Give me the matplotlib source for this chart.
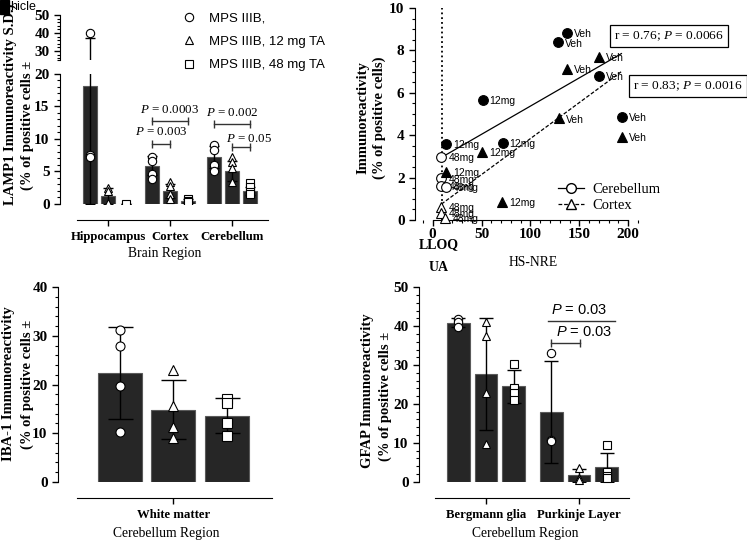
import numpy as np
import matplotlib
matplotlib.use("Agg")
import matplotlib.pyplot as plt
from matplotlib.ticker import MultipleLocator, FixedLocator
from matplotlib.lines import Line2D

plt.rcParams['font.family'] = 'Liberation Serif'
plt.rcParams['mathtext.fontset'] = 'custom'
plt.rcParams['mathtext.it'] = 'Liberation Serif:italic'
plt.rcParams['mathtext.rm'] = 'Liberation Serif'
plt.rcParams['mathtext.sf'] = 'Liberation Sans:italic'

# ---- panel A: LAMP1 ----
regions_a = ['Hippocampus', 'Cortex', 'Cerebellum']
lamp_mean_veh = [18.2, 5.9, 7.2]
lamp_mean_12 = [1.2, 2.0, 5.1]
lamp_mean_48 = [0.0, 0.5, 2.0]
lamp_sd_veh = [18.8, 1.5, 1.7]
lamp_sd_12 = [1.2, 1.1, 1.5]
lamp_sd_48 = [0.0, 0.3, 0.6]
lamp_pts_veh = [[40.0, 7.5, 7.2], [7.2, 6.6, 4.6, 3.9], [9.0, 8.3, 6.0, 5.1]]
lamp_pts_12 = [[2.5, 2.0, 0.1], [3.4, 2.8, 1.5, 0.8], [7.3, 6.5, 5.5, 3.4]]
lamp_pts_48 = [[0.0], [0.8, 0.4, 0.3], [3.3, 2.6, 1.9, 1.5]]

# ---- panel B: correlation with HS-NRE ----
cb_veh_x = [137, 128.5, 170.5, 194]
cb_veh_y = [8.83, 8.38, 6.8, 4.87]
cb_12_x = [51, 14, 71.5]
cb_12_y = [5.66, 3.58, 3.65]
cb_48_x = [9, 9, 9, 13.5]
cb_48_y = [2.99, 1.97, 1.6, 1.57]
cx_veh_x = [170.3, 137, 129, 194]
cx_veh_y = [7.7, 7.12, 4.8, 3.93]
cx_12_x = [50.6, 14, 71]
cx_12_y = [3.22, 2.28, 0.86]
cx_48_x = [9, 9, 13]
cx_48_y = [0.63, 0.35, 0.1]
fit_cb_x, fit_cb_y = [9, 193], [2.95, 7.85]
fit_cx_x, fit_cx_y = [9, 193], [0.75, 7.0]
lloq = 9.5

# ---- panel C: IBA-1 ----
iba_mean = [22.3, 14.8, 13.6]
iba_sd = [9.5, 6.1, 3.6]
iba_pts = [[31.2, 28.0, 19.6, 10.2], [22.9, 15.6, 11.3, 9.0], [17.0, 16.2, 12.0, 9.5]]

# ---- panel D: GFAP ----
regions_d = ['Bergmann glia', 'Purkinje Layer']
gfap_mean_veh = [40.9, 18.0]
gfap_mean_12 = [27.8, 1.6]
gfap_mean_48 = [24.5, 3.7]
gfap_sd_veh = [1.2, 13.1]
gfap_sd_12 = [14.4, 1.6]
gfap_sd_48 = [4.2, 3.8]
gfap_pts_veh = [[41.8, 41.0, 39.8], [33.2, 10.6, 10.4]]
gfap_pts_12 = [[41.2, 37.4, 22.9, 9.7], [3.6, 0.9, 0.4]]
gfap_pts_48 = [[30.4, 24.2, 22.9, 20.9], [9.5, 2.5, 1.5, 1.0]]

W, H = 747, 543
fig = plt.figure(figsize=(W / 100, H / 100), dpi=100)

BAR = '#262626'
EDGE = '#5a5a5a'
markers = ['o', '^', 's']
CAT_SIZE = 9.2
TITLE_SIZE = 9.8


def px_axes(l, t, r, b):
    return fig.add_axes([l / W, 1 - b / H, (r - l) / W, (b - t) / H])


def style(ax, ysize=11, xsize=CAT_SIZE):
    for s in ['top', 'right']:
        ax.spines[s].set_visible(False)
    ax.tick_params(axis='both', which='major', length=4, width=1, direction='out')
    ax.tick_params(axis='both', which='minor', length=2.5, width=0.8)
    ax.tick_params(axis='y', labelsize=ysize)
    ax.tick_params(axis='x', labelsize=xsize, pad=4)
    for lab in ax.get_xticklabels() + ax.get_yticklabels():
        lab.set_fontweight('bold')
    ax.patch.set_alpha(0)


def draw_bars(ax, xs, means, sds, pts, marker, width, capsize, ms):
    ax.bar(xs, means, width=width, color=BAR, edgecolor=EDGE, linewidth=0.8, zorder=2)
    lower = [min(m, s) for m, s in zip(means, sds)]
    ax.errorbar(xs, means, yerr=[lower, sds], fmt='none', ecolor='black',
                elinewidth=1, capsize=capsize, capthick=1, zorder=3)
    for x, p in zip(xs, pts):
        ax.plot([x] * len(p), p, linestyle='none', marker=marker, ms=ms,
                mfc='white', mec='black', mew=0.8, zorder=4, clip_on=False)


def bracket(ax, x0, x1, y, caps=True):
    ax.plot([x0, x1], [y, y], color='#333333', lw=1, zorder=5, clip_on=False)
    if caps:
        ax.plot([x0, x1], [y, y], linestyle='none', marker='|', ms=6, mew=1,
                color='#333333', zorder=5, clip_on=False)


# ===== Panel A =====
off_a = 0.29
w_a = 0.24
xa = np.arange(len(regions_a))
ax_a = px_axes(60, 74, 270, 204)
ax_at = px_axes(60, 15, 270, 60)
for ax in (ax_a, ax_at):
    ax.set_xlim(-0.774, 2.613)
    for i, (mn, sd, pt) in enumerate([(lamp_mean_veh, lamp_sd_veh, lamp_pts_veh),
                                      (lamp_mean_12, lamp_sd_12, lamp_pts_12),
                                      (lamp_mean_48, lamp_sd_48, lamp_pts_48)]):
        draw_bars(ax, xa + (i - 1) * off_a, mn, sd, pt, markers[i], w_a, 3.3, 6)
ax_a.set_ylim(0, 20)
ax_at.set_ylim(25, 50)
for c in ax_at.collections + ax_at.lines:
    c.set_clip_on(True)
for c in ax_a.lines:
    c.set_clip_on(True)
ax_a.yaxis.set_major_locator(MultipleLocator(5))
ax_a.yaxis.set_minor_locator(MultipleLocator(1))
ax_at.yaxis.set_major_locator(FixedLocator([30, 40, 50]))
ax_at.yaxis.set_minor_locator(FixedLocator([25, 26, 28, 32, 34, 36, 38, 42, 44, 46, 48]))
ax_at.spines['bottom'].set_visible(False)
ax_at.set_xticks([])
ax_a.set_xticks(xa)
ax_a.set_xticklabels(regions_a)
ax_a.spines['bottom'].set_position(('outward', 11.5))
ax_a.spines['bottom'].set_bounds(-0.5, 2.58)
style(ax_a)
style(ax_at)
ax_a.set_xlabel('Brain Region', fontsize=TITLE_SIZE, labelpad=3)

PA = 9.4
bracket(ax_a, 1 - off_a, 1 + off_a, 12.8)
ax_a.text(1, 13.6, r'$P$ = 0.0003', ha='center', va='bottom', fontsize=PA)
bracket(ax_a, 1 - off_a, 1, 9.3)
ax_a.text(0.86, 10.1, r'$P$ = 0.003', ha='center', va='bottom', fontsize=PA)
bracket(ax_a, 2 - off_a, 2 + off_a, 12.3)
ax_a.text(2, 13.1, r'$P$ = 0.002', ha='center', va='bottom', fontsize=PA)
bracket(ax_a, 2, 2 + off_a, 8.8)
ax_a.text(2.27, 9.0, r'$P$ = 0.05', ha='center', va='bottom', fontsize=PA)

leg_handles = [Line2D([], [], linestyle='none', marker=m, ms=6, mfc='white', mec='black', mew=0.8)
               for m in markers]
fig.legend(leg_handles, ['MPS IIIB,', 'MPS IIIB, 12 mg TA', 'MPS IIIB, 48 mg TA'],
           loc='upper left', bbox_to_anchor=(176 / W, 1 - 7 / H), frameon=False,
           prop={'family': 'Liberation Sans', 'size': 9.5}, handlelength=1.2,
           handletextpad=0.9, labelspacing=0.85, borderaxespad=0)
fig.patches.append(plt.Rectangle((0, 1 - 14 / H), 9 / W, 14 / H, transform=fig.transFigure,
                                 color='black'))
fig.text(10 / W, 1 - 7 / H, 'hicle', family='Liberation Sans', fontsize=9, va='center')
fig.text(10 / W, 1 - 205 / H, 'LAMP1 Immunoreactivity S.D.)', rotation=90, ha='center',
         va='bottom', fontsize=10.5, fontweight='bold')
fig.text(27 / W, 1 - 125 / H, '(% of positive cells \u00b1', rotation=90, ha='center',
         va='center', fontsize=10.5, fontweight='bold')

# ===== Panel B =====
ax_b = px_axes(415, 8, 640, 220)
ax_b.set_xlim(-18, 212)
ax_b.set_ylim(0, 10)
ax_b.xaxis.set_major_locator(MultipleLocator(50))
ax_b.xaxis.set_minor_locator(MultipleLocator(10))
ax_b.yaxis.set_major_locator(MultipleLocator(2))
ax_b.yaxis.set_minor_locator(MultipleLocator(0.5))
style(ax_b, ysize=11, xsize=11)
ax_b.spines['bottom'].set_bounds(0, 200)
ax_b.tick_params(axis='x', pad=2)
ax_b.axvline(lloq, ymin=0, ymax=1, color='black', linestyle=':', lw=1.3)
ax_b.plot(fit_cb_x, fit_cb_y, color='black', lw=0.9)
ax_b.plot(fit_cx_x, fit_cx_y, color='black', lw=0.9, linestyle=(0, (3, 1.5)))


def scatter_group(xs, ys, marker, filled, label):
    ax_b.plot(xs, ys, linestyle='none', marker=marker, ms=7 if marker == 'o' else 6.5,
              mfc='black' if filled else 'white', mec='black', mew=0.8, clip_on=False, zorder=4)
    for x, y in zip(xs, ys):
        ax_b.annotate(label, (x, y), xytext=(5, -1), textcoords='offset points',
                      fontsize=7.5, family='Liberation Sans', va='center', ha='left')


scatter_group(cb_veh_x, cb_veh_y, 'o', True, 'Veh')
scatter_group(cb_12_x, cb_12_y, 'o', True, '12mg')
scatter_group(cb_48_x, cb_48_y, 'o', False, '48mg')
scatter_group(cx_veh_x, cx_veh_y, '^', True, 'Veh')
scatter_group(cx_12_x, cx_12_y, '^', True, '12mg')
scatter_group(cx_48_x, cx_48_y, '^', False, '48mg')

ax_b.annotate('LLOQ', (lloq, 0), xytext=(-2, -18), textcoords='offset points', ha='center',
              va='center', fontsize=10, fontweight='bold', annotation_clip=False)
ax_b.annotate('UA', (lloq, 0), xytext=(-2, -34.5), textcoords='offset points', ha='center',
              va='center', fontsize=10, fontweight='bold', annotation_clip=False)
fig.text(533 / W, 1 - 263 / H, 'HS-NRE', ha='center', va='center', fontsize=TITLE_SIZE)
fig.text(363 / W, 1 - 118 / H, 'Immunoreactivity', rotation=90, ha='center', va='center',
         fontsize=10.5, fontweight='bold')
fig.text(379 / W, 1 - 118 / H, '(% of positive cells)', rotation=90, ha='center', va='center',
         fontsize=10.5, fontweight='bold')
fig.text(669 / W, 1 - 36 / H, r'r = 0.76; $P$ = 0.0066', ha='center', va='center', fontsize=9.6,
         bbox=dict(boxstyle='square,pad=0.3', fc='white', ec='black', lw=0.9))
fig.text(688 / W, 1 - 86 / H, r'r = 0.83; $P$ = 0.0016', ha='center', va='center', fontsize=9.6,
         bbox=dict(boxstyle='square,pad=0.3', fc='white', ec='black', lw=0.9))
hb = [Line2D([], [], color='black', lw=0.9, marker='o', ms=7, mfc='white', mec='black'),
      Line2D([], [], color='black', lw=0.9, linestyle=(0, (3, 1.5)), marker='^', ms=7,
             mfc='white', mec='black')]
fig.legend(hb, ['Cerebellum', 'Cortex'], loc='upper left', bbox_to_anchor=(552 / W, 1 - 177 / H),
           frameon=False, prop={'family': 'Liberation Serif', 'size': 10.5}, handlelength=1.8,
           handletextpad=0.6, labelspacing=0.2, borderaxespad=0)

# ===== Panel C =====
ax_c = px_axes(58, 287.3, 275, 481.7)
ax_c.set_xlim(-2.15, 1.9)
ax_c.set_ylim(0, 40)
for i in range(3):
    draw_bars(ax_c, [i - 1], [iba_mean[i]], [iba_sd[i]], [iba_pts[i]], markers[i], 0.82, 9, 6.5)
ax_c.yaxis.set_major_locator(MultipleLocator(10))
ax_c.yaxis.set_minor_locator(MultipleLocator(2))
ax_c.set_xticks([0])
ax_c.set_xticklabels(['White matter'])
ax_c.spines['bottom'].set_position(('outward', 12))
ax_c.spines['bottom'].set_bounds(-1.79, 1.85)
style(ax_c)
ax_c.set_xlabel('Cerebellum Region', fontsize=TITLE_SIZE, labelpad=4)
fig.text(9 / W, 1 - 384 / H, 'IBA-1 Immunoreactivity', rotation=90, ha='center', va='center',
         fontsize=10.5, fontweight='bold')
fig.text(27 / W, 1 - 384 / H, '(% of positive cells \u00b1', rotation=90, ha='center', va='center',
         fontsize=10.5, fontweight='bold')

# ===== Panel D =====
off_d = 0.296
xd = np.arange(len(regions_d))
ax_d = px_axes(419, 287.3, 632, 481.7)
ax_d.set_xlim(-0.72, 1.57)
ax_d.set_ylim(0, 50)
for i, (mn, sd, pt) in enumerate([(gfap_mean_veh, gfap_sd_veh, gfap_pts_veh),
                                  (gfap_mean_12, gfap_sd_12, gfap_pts_12),
                                  (gfap_mean_48, gfap_sd_48, gfap_pts_48)]):
    draw_bars(ax_d, xd + (i - 1) * off_d, mn, sd, pt, markers[i], 0.245, 5, 6)
ax_d.yaxis.set_major_locator(MultipleLocator(10))
ax_d.yaxis.set_minor_locator(MultipleLocator(2))
ax_d.set_xticks(xd)
ax_d.set_xticklabels(regions_d)
ax_d.spines['bottom'].set_position(('outward', 12))
ax_d.spines['bottom'].set_bounds(-0.548, 1.538)
style(ax_d)
ax_d.set_xlabel('Cerebellum Region', fontsize=TITLE_SIZE, labelpad=4)
bracket(ax_d, 1 - off_d - 0.04, 1 + off_d + 0.09, 41.3, caps=False)
ax_d.text(1.0, 42.3, r'$\mathsf{P}$ = 0.03', ha='center', va='bottom', fontsize=10.5,
          family='Liberation Sans')
bracket(ax_d, 1 - off_d, 1.01, 35.7)
ax_d.text(1.06, 36.6, r'$\mathsf{P}$ = 0.03', ha='center', va='bottom', fontsize=10.5,
          family='Liberation Sans')
fig.text(367 / W, 1 - 391 / H, 'GFAP Immunoreactivity', rotation=90, ha='center', va='center',
         fontsize=10.5, fontweight='bold')
fig.text(385 / W, 1 - 396 / H, '(% of positive cells \u00b1', rotation=90, ha='center', va='center',
         fontsize=10.5, fontweight='bold')

fig.savefig('out.png', dpi=100)
